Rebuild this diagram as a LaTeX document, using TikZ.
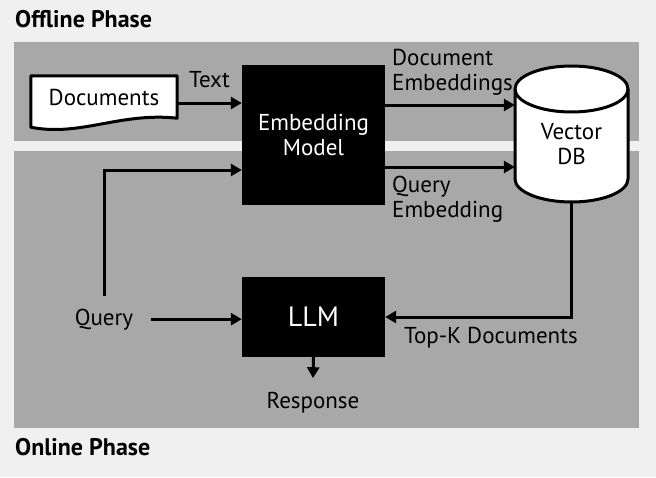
\documentclass[tikz,border=0pt]{standalone}
\usepackage{fontspec}
\setmainfont{PT Sans}
\usetikzlibrary{arrows.meta}
\definecolor{bgc}{HTML}{F0F0F0}
\definecolor{panelc}{HTML}{A8A8A8}
\begin{document}
\begin{tikzpicture}[x=1pt,y=-1pt,
  font=\fontsize{23}{25}\selectfont,
  ln/.style={line width=3pt},
  arr/.style={line width=3pt,-{Triangle[length=11pt,width=12pt]}},
  blackbox/.style={fill=black,text=white,minimum width=143pt,inner sep=0pt,align=center},
  lbl/.style={inner sep=0pt,align=left},
  phasetitle/.style={font=\fontsize{24}{26}\selectfont\bfseries,anchor=base west,inner sep=0pt}]
\fill[bgc] (0,0) rectangle (656,477);
\useasboundingbox (0,0) rectangle (656,477);
\fill[panelc] (14,42) rectangle (639,141);
\fill[panelc] (14,151) rectangle (639,428);
\node[phasetitle] (offt) at (15,27) {Offline Phase};
\node[phasetitle] (onlt) at (15,455) {Online Phase};
% documents
\node (docs) [minimum width=146pt,minimum height=42pt,inner sep=0pt] at (104,97) {};
\draw[ln,fill=white,line join=round] (docs.south east) -- (docs.north east) -- (docs.north west)
  -- ([yshift=-9pt]docs.south west) .. controls (80,137) and (120,112) .. (docs.south east) -- cycle;
\node (docstext) at (docs.center) {Documents};
% embedding model
\node (emb) [blackbox,minimum height=140pt] at (313.5,135) {Embedding\\Model};
% LLM
\node (llm) [blackbox,minimum height=80pt,font=\fontsize{28}{30}\selectfont] at (313.5,317) {LLM};
% vector db
\draw[ln,fill=white] (515,89) -- (515,179) arc[start angle=180,end angle=360,x radius=56.5pt,y radius=23pt]
  -- (628,89) arc[start angle=0,end angle=180,x radius=56.5pt,y radius=23pt] -- cycle;
\draw[ln] (515,89) arc[start angle=180,end angle=360,x radius=56.5pt,y radius=23pt];
\node (db) [minimum width=113pt,minimum height=136pt,inner sep=0pt] at (571.5,134) {};
\node[align=center] (dbtext) at ([yshift=-10pt]db.center) {Vector\\DB};
% labels
\node[lbl,anchor=west] (docemb) at (392,72) {Document\\Embeddings};
\node[lbl,anchor=west] (qemb) at (392,199) {Query\\Embedding};
\node[anchor=base] (query) at (104,325) {Query};
\node[anchor=base west,inner sep=0pt] (topk) at (404,343) {Top-K Documents};
\node[anchor=base] (resp) at (313,408) {Response};
% connectors
\draw[arr] ([yshift=-6pt]docs.east) -- ([yshift=-6pt]docs.east -| emb.west)
  node[midway,anchor=base,yshift=16pt] {Text};
\draw[arr] ([yshift=30pt]emb.east) -- ([yshift=30pt]emb.east -| db.west);
\draw[arr] ([yshift=-32pt]emb.east) -- ([yshift=-32pt]emb.east -| db.west);
\draw[arr] ([yshift=9pt]query.north) |- ([yshift=-35pt]emb.west);
\draw[arr] ([xshift=14pt]query.east) -- (query.east -| llm.west);
\draw[arr] (db.south) |- (llm.east);
\draw[arr] (llm.south) -- ([yshift=10pt]resp.north);
\end{tikzpicture}
\end{document}
